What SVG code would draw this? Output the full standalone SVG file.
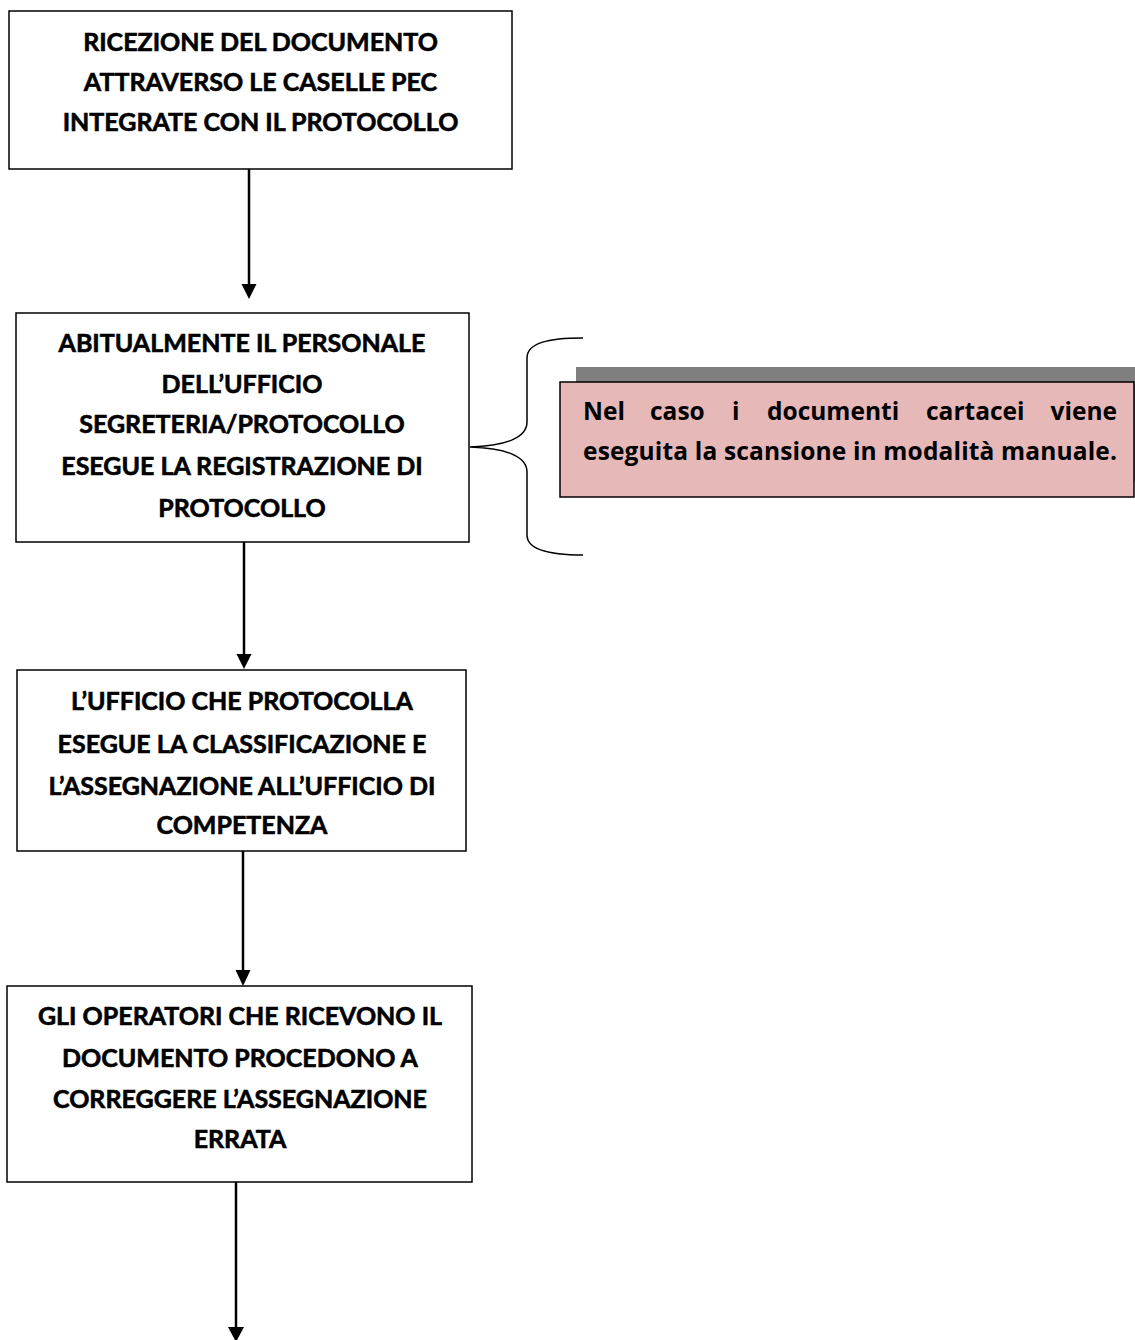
<svg xmlns="http://www.w3.org/2000/svg" width="1135" height="1340" viewBox="0 0 1135 1340">
<style>
.box{fill:#fff;stroke:#000;stroke-width:1.5}
.t{font-family:Lato,"Liberation Sans",sans-serif;font-weight:bold;font-size:25px;fill:#000;stroke:#000;stroke-width:0.6;text-anchor:middle}
.c{font-family:"Open Sans","Liberation Sans",sans-serif;font-weight:bold;font-size:24.5px;fill:#000}
.ln{stroke:#000;stroke-width:2.5;fill:none}
.hd{fill:#000}
.br{stroke:#000;stroke-width:1.5;fill:none}
</style>
<rect width="1135" height="1340" fill="#fff"/>
<g id="connectors">
<line class="ln" x1="249" y1="169" x2="249" y2="287"/>
<polygon class="hd" points="241.5,284 256.5,284 249,299"/>
<line class="ln" x1="244" y1="542" x2="244" y2="657"/>
<polygon class="hd" points="236.5,654 251.5,654 244,669"/>
<line class="ln" x1="243" y1="851" x2="243" y2="972"/>
<polygon class="hd" points="235.5,970 250.5,970 243,986"/>
<line class="ln" x1="236" y1="1182" x2="236" y2="1330"/>
<polygon class="hd" points="228,1327 244,1327 236,1342"/>
<path class="br" d="M583,338 C548,338 527,343 527,358 L527,422 C527,438 505,446 470,447 C505,448 527,456 527,472 L527,535 C527,549 548,555 583,555"/>
</g>
<g id="n1">
<rect class="box" x="9" y="11" width="503" height="158"/>
<text class="t" x="260.5" y="51">RICEZIONE DEL DOCUMENTO</text>
<text class="t" x="260.5" y="91">ATTRAVERSO LE CASELLE PEC</text>
<text class="t" x="260.5" y="131">INTEGRATE CON IL PROTOCOLLO</text>
</g>
<g id="n2">
<rect class="box" x="16" y="313" width="453" height="229"/>
<text class="t" x="242" y="352">ABITUALMENTE IL PERSONALE</text>
<text class="t" x="242" y="393">DELL’UFFICIO</text>
<text class="t" x="242" y="433">SEGRETERIA/PROTOCOLLO</text>
<text class="t" x="242" y="475">ESEGUE LA REGISTRAZIONE DI</text>
<text class="t" x="242" y="517">PROTOCOLLO</text>
</g>
<g id="n3">
<rect class="box" x="17" y="670" width="449" height="181"/>
<text class="t" x="242" y="710">L’UFFICIO CHE PROTOCOLLA</text>
<text class="t" x="242" y="753">ESEGUE LA CLASSIFICAZIONE E</text>
<text class="t" x="242" y="795">L’ASSEGNAZIONE ALL’UFFICIO DI</text>
<text class="t" x="242" y="834">COMPETENZA</text>
</g>
<g id="n4">
<rect class="box" x="7" y="986" width="465" height="196"/>
<text class="t" x="240" y="1025">GLI OPERATORI CHE RICEVONO IL</text>
<text class="t" x="240" y="1067">DOCUMENTO PROCEDONO A</text>
<text class="t" x="240" y="1108">CORREGGERE L’ASSEGNAZIONE</text>
<text class="t" x="240" y="1148">ERRATA</text>
</g>
<g id="note">
<rect x="576" y="367" width="570" height="115" fill="#7f7f7f"/>
<rect x="560" y="382" width="574" height="115" fill="#e6b8b7" stroke="#000" stroke-width="1.5"/>
<text class="c" y="420"><tspan x="583">Nel</tspan><tspan x="650">caso</tspan><tspan x="732">i</tspan><tspan x="767">documenti</tspan><tspan x="926">cartacei</tspan></text>
<text class="c" x="1117" y="420" text-anchor="end">viene</text>
<text class="c" x="583" y="460" textLength="534" lengthAdjust="spacing">eseguita la scansione in modalità manuale.</text>
</g>
</svg>
